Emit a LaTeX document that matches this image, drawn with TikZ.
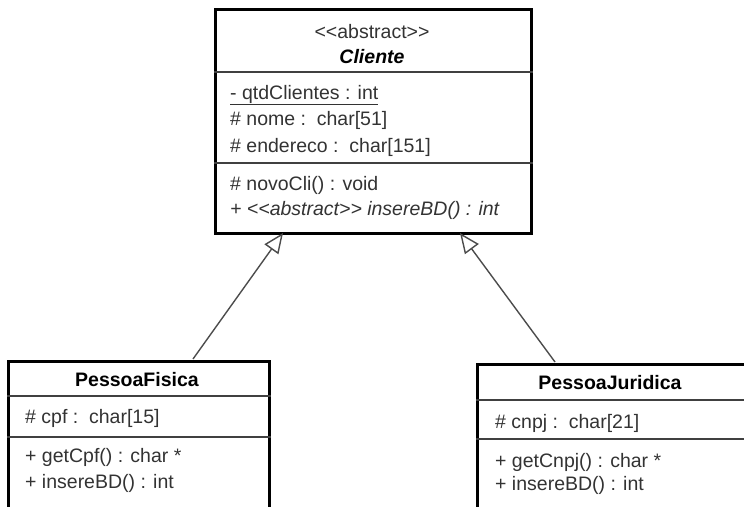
\documentclass[tikz,border=0pt]{standalone}
\usepackage{fontspec}
\setmainfont{Liberation Sans}[Ligatures=TeXOff]
\usetikzlibrary{arrows.meta}
\begin{document}
\begin{tikzpicture}[x=1pt,y=-1pt,
  classbox/.style={draw=black, line width=3pt, fill=white, rectangle, inner sep=0pt, anchor=north west},
  divline/.style={draw=black!75, line width=1.5pt},
  txt/.style={anchor=west, inner sep=0pt, text=black!80, font=\fontsize{19.5}{22}\selectfont},
  ttl/.style={anchor=center, inner sep=0pt, text=black, font=\fontsize{19.5}{22}\selectfont\bfseries},
  gen/.style={draw=black!70, line width=1.4pt, -{Triangle[open, length=20pt, width=17pt, fill=white]}}
]
\useasboundingbox (0,0) rectangle (744,506);
% Cliente
\node[classbox, minimum width=316pt, minimum height=224pt] (cli) at (214,8) {};
\draw[divline] (cli.west |- 0,72) -- (cli.east |- 0,72);
\draw[divline] (cli.west |- 0,163) -- (cli.east |- 0,163);
\node[ttl, font=\fontsize{19.5}{22}\selectfont, text=black!80] (cster) at (372,32) {<<abstract>>};
\node[ttl, font=\fontsize{19.5}{22}\selectfont\bfseries\itshape] (cname) at (372,57) {Cliente};
\node[txt] (ca1) at (230,95) {\underline{- qtdClientes : int}};
\node[txt] (ca2) at (230,120) {\# nome :\ \ char[51]};
\node[txt] (ca3) at (230,147) {\# endereco :\ \ char[151]};
\node[txt] (cm1) at (230,185) {\# novoCli() : void};
\node[txt, font=\fontsize{19.5}{22}\selectfont\itshape] (cm2) at (230,210) {+ <<abstract>> insereBD() : int};
% PessoaFisica
\node[classbox, minimum width=261pt, minimum height=170pt] (pf) at (7,360) {};
\draw[divline] (pf.west |- 0,396) -- (pf.east |- 0,396);
\draw[divline] (pf.west |- 0,437) -- (pf.east |- 0,437);
\node[ttl] (pfname) at (137,380) {PessoaFisica};
\node[txt] (pfa1) at (25,418) {\# cpf :\ \ char[15]};
\node[txt] (pfm1) at (25,457) {+ getCpf() : char *};
\node[txt] (pfm2) at (25,483) {+ insereBD() : int};
% PessoaJuridica
\node[classbox, minimum width=300pt, minimum height=170pt] (pj) at (476,363) {};
\draw[divline] (pj.west |- 0,400) -- (pj.east |- 0,400);
\draw[divline] (pj.west |- 0,439) -- (pj.east |- 0,439);
\node[ttl] (pjname) at (610,383) {PessoaJuridica};
\node[txt] (pja1) at (495,423) {\# cnpj :\ \ char[21]};
\node[txt] (pjm1) at (495,462) {+ getCnpj() : char *};
\node[txt] (pjm2) at (495,485) {+ insereBD() : int};
% connectors
\coordinate (pfTop) at (193,359);
\coordinate (pjTop) at (555,362);
\coordinate (cliL) at (283,233);
\coordinate (cliR) at (460,233);
\draw[gen] (pfTop) -- (cliL);
\draw[gen] (pjTop) -- (cliR);
\end{tikzpicture}
\end{document}
